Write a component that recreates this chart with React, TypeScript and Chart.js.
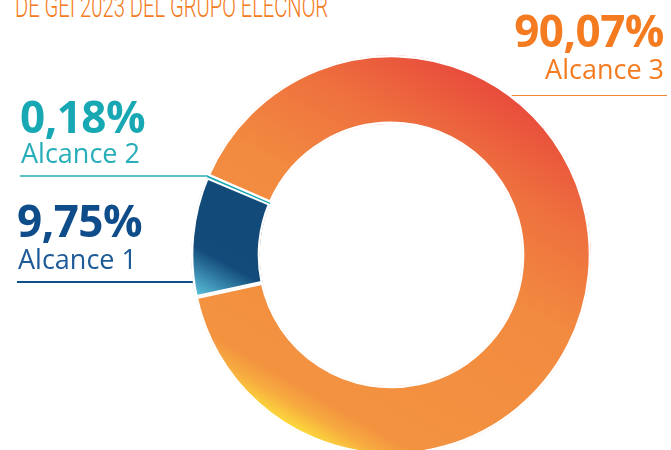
import React, { useEffect, useRef } from 'react';
import { Chart, registerables } from 'chart.js';

Chart.register(...registerables);

const categories = ['Alcance 1', 'Alcance 2', 'Alcance 3'];
const shares = [9.75, 0.18, 90.07];
const shareLabels = ['9,75%', '0,18%', '90,07%'];
const titleText = 'DE GEI 2023 DEL GRUPO ELECNOR';

const ORANGE = '#f47b20';
const TEAL = '#17a8b4';
const NAVY = '#0f4c8a';

const LABEL_FONT = '"Open Sans", "Noto Sans", sans-serif';

export default function App() {
  const canvasRef = useRef<HTMLCanvasElement | null>(null);

  useEffect(() => {
    const canvas = canvasRef.current;
    if (!canvas) return;
    const R = 200;

    const orangeFill = (c: any) => {
      const chart = c.chart;
      const a = chart.chartArea;
      if (!a) return '#f39040';
      const cx = (a.left + a.right) / 2;
      const cy = (a.top + a.bottom) / 2;
      const g = chart.ctx.createLinearGradient(cx + 0.9 * R, cy - 0.98 * R, cx - 0.3 * R, cy + 1.08 * R);
      g.addColorStop(0, '#e63a3a');
      g.addColorStop(0.12, '#e84a3c');
      g.addColorStop(0.3, '#ee703e');
      g.addColorStop(0.5, '#f28a40');
      g.addColorStop(0.88, '#f39340');
      g.addColorStop(0.92, '#f7ac3f');
      g.addColorStop(0.96, '#fcd83c');
      g.addColorStop(1, '#ffee3a');
      return g;
    };
    const navyFill = (c: any) => {
      const chart = c.chart;
      const a = chart.chartArea;
      if (!a) return '#124a79';
      const cx = (a.left + a.right) / 2;
      const cy = (a.top + a.bottom) / 2;
      const g = chart.ctx.createLinearGradient(cx - 0.8 * R, cy - 0.05 * R, cx - 0.95 * R, cy + 0.22 * R);
      g.addColorStop(0, '#124a79');
      g.addColorStop(0.3, '#134b7b');
      g.addColorStop(1, '#5cc3dd');
      return g;
    };

    const chart = new Chart(canvas, {
      type: 'doughnut',
      data: {
        labels: categories,
        datasets: [
          {
            data: shares,
            backgroundColor: (c: any) =>
              c.dataIndex === 0 ? navyFill(c) : c.dataIndex === 1 ? TEAL : orangeFill(c),
            borderColor: '#ffffff',
            borderWidth: [2, 0, 2],
            borderAlign: 'inner',
            hoverOffset: 0,
          },
        ],
      },
      options: {
        responsive: false,
        animation: false,
        events: [],
        radius: R,
        cutout: '65.5%',
        rotation: 257.8,
        layout: { padding: { left: 111, right: 0, top: 60, bottom: 0 } },
        plugins: {
          legend: { display: false },
          tooltip: { enabled: false },
        },
      } as any,
    });
    return () => chart.destroy();
  }, []);

  const numStyle = (color: string): React.CSSProperties => ({
    position: 'absolute',
    fontFamily: LABEL_FONT,
    fontWeight: 700,
    fontSize: 44,
    lineHeight: 1,
    color,
    whiteSpace: 'nowrap',
    letterSpacing: -0.5,
  });
  const catStyle = (color: string): React.CSSProperties => ({
    position: 'absolute',
    fontFamily: LABEL_FONT,
    fontWeight: 400,
    fontSize: 27,
    lineHeight: 1,
    color,
    whiteSpace: 'nowrap',
  });

  return (
    <div
      style={{
        position: 'fixed',
        left: 0,
        top: 0,
        width: 671,
        height: 450,
        overflow: 'hidden',
        background: '#ffffff',
      }}
    >
      <div
        style={{
          position: 'absolute',
          left: 15,
          top: -9,
          fontFamily: 'Roboto, sans-serif',
          fontWeight: 300,
          fontSize: 31,
          lineHeight: 1,
          color: ORANGE,
          whiteSpace: 'nowrap',
          transform: 'scaleX(0.65)',
          transformOrigin: 'left top',
        }}
      >
        {titleText}
      </div>

      <div style={{ position: 'absolute', left: 500, top: 95, width: 167, height: 1, background: '#f2883a' }} />
      <div style={{ position: 'absolute', left: 20, top: 175, width: 200, height: 2, background: '#5cc3c9' }} />
      <div style={{ position: 'absolute', left: 17, top: 281, width: 185, height: 2, background: '#0d4f8b' }} />

      <canvas
        ref={canvasRef}
        width={671}
        height={450}
        style={{ position: 'absolute', left: 0, top: 0, width: 671, height: 450 }}
      />

      <div style={{ ...numStyle(ORANGE), right: 7, top: 8 }}>{shareLabels[2]}</div>
      <div style={{ ...catStyle(ORANGE), right: 7, top: 55 }}>{categories[2]}</div>

      <div style={{ ...numStyle(TEAL), left: 20, top: 94 }}>{shareLabels[1]}</div>
      <div style={{ ...catStyle('#27aeb9'), left: 21, top: 139 }}>{categories[1]}</div>

      <div style={{ ...numStyle(NAVY), left: 17, top: 198 }}>{shareLabels[0]}</div>
      <div style={{ ...catStyle('#1d5a96'), left: 18, top: 245 }}>{categories[0]}</div>
    </div>
  );
}
